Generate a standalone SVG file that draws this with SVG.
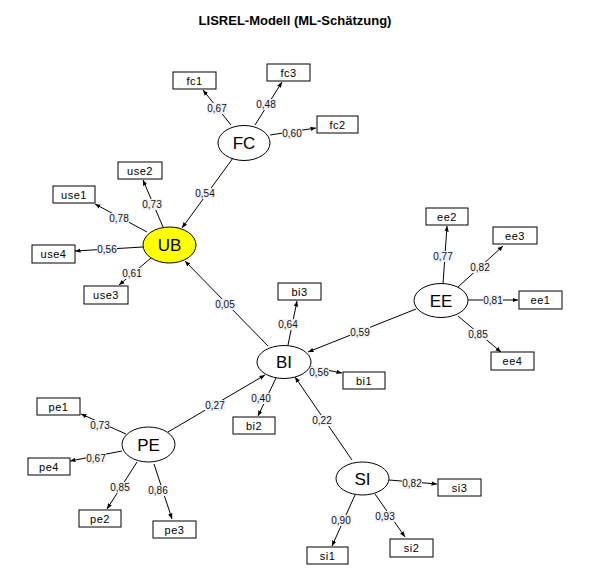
<svg xmlns="http://www.w3.org/2000/svg" width="590" height="580" viewBox="0 0 590 580">
<style>
.bg{fill:#fff}
.lv ellipse{fill:#fff;stroke:#000;stroke-width:1}
.lv text{font-family:"Liberation Sans",Arial,sans-serif;font-size:17px;text-anchor:middle}
.ob rect{fill:#fff;stroke:#000;stroke-width:1}
.ob text{font-family:"Liberation Sans",Arial,sans-serif;font-size:11px;text-anchor:middle;letter-spacing:0.5px}
.c line{stroke:#000;stroke-width:1;marker-end:url(#ah)}
.lb rect{fill:#f1f3f8}
.lb text{font-family:"Liberation Sans",Arial,sans-serif;font-size:10px;text-anchor:middle;fill:#111}
.title{font-family:"Liberation Sans",Arial,sans-serif;font-size:13px;font-weight:bold;text-anchor:middle}
</style>
<defs>
<marker id="ah" markerUnits="userSpaceOnUse" markerWidth="6" markerHeight="6" refX="5.5" refY="3" orient="auto">
<path d="M0,0.8 L5.5,3 L0,5.2 z" fill="#000"/>
</marker>
</defs>
<rect class="bg" x="0" y="0" width="590" height="580"/>
<text class="title" x="295" y="25">LISREL-Modell (ML-Schätzung)</text>

<g id="connectors" class="c">
<line x1="231" y1="125" x2="203" y2="90"/>
<line x1="255" y1="125" x2="282" y2="82"/>
<line x1="270" y1="135" x2="316" y2="128"/>
<line x1="233" y1="158" x2="182" y2="228"/>
<line x1="163" y1="227" x2="143" y2="180"/>
<line x1="147" y1="232" x2="95" y2="204"/>
<line x1="143" y1="247" x2="75" y2="251"/>
<line x1="151" y1="258" x2="119" y2="285"/>
<line x1="268" y1="346" x2="185" y2="261"/>
<line x1="443" y1="284" x2="447" y2="226"/>
<line x1="458" y1="287" x2="503" y2="246"/>
<line x1="468" y1="300" x2="518" y2="300"/>
<line x1="458" y1="316" x2="501" y2="352"/>
<line x1="416" y1="309" x2="308" y2="352"/>
<line x1="288" y1="345" x2="297" y2="301"/>
<line x1="311" y1="367" x2="342" y2="373"/>
<line x1="276" y1="378" x2="258" y2="416"/>
<line x1="168" y1="432" x2="265" y2="375"/>
<line x1="352" y1="460" x2="295" y2="377"/>
<line x1="126" y1="434" x2="81" y2="414"/>
<line x1="122" y1="451" x2="70" y2="461"/>
<line x1="137" y1="462" x2="107" y2="509"/>
<line x1="154" y1="464" x2="172" y2="519"/>
<line x1="389" y1="480" x2="437" y2="484"/>
<line x1="355" y1="495" x2="332" y2="546"/>
<line x1="375" y1="494" x2="405" y2="537"/>
</g>

<g id="labels" class="lb">
<rect x="207" y="103" width="20" height="11"/><text x="217" y="112">0,67</text>
<rect x="256" y="99" width="20" height="11"/><text x="266" y="108">0,48</text>
<rect x="282" y="128" width="20" height="11"/><text x="292" y="137">0,60</text>
<rect x="195" y="188" width="20" height="11"/><text x="205" y="197">0,54</text>
<rect x="142" y="199" width="20" height="11"/><text x="152" y="208">0,73</text>
<rect x="109" y="213" width="20" height="11"/><text x="119" y="222">0,78</text>
<rect x="97" y="244" width="20" height="11"/><text x="107" y="253">0,56</text>
<rect x="122" y="268" width="20" height="11"/><text x="132" y="277">0,61</text>
<rect x="215" y="299" width="20" height="11"/><text x="225" y="308">0,05</text>
<rect x="433" y="251" width="20" height="11"/><text x="443" y="260">0,77</text>
<rect x="470" y="262" width="20" height="11"/><text x="480" y="271">0,82</text>
<rect x="483" y="295" width="20" height="11"/><text x="493" y="304">0,81</text>
<rect x="468" y="329" width="20" height="11"/><text x="478" y="338">0,85</text>
<rect x="278" y="319" width="20" height="11"/><text x="288" y="328">0,64</text>
<rect x="350" y="327" width="20" height="11"/><text x="360" y="336">0,59</text>
<rect x="309" y="367" width="20" height="11"/><text x="319" y="376">0,56</text>
<rect x="251" y="393" width="20" height="11"/><text x="261" y="402">0,40</text>
<rect x="205" y="400" width="20" height="11"/><text x="215" y="409">0,27</text>
<rect x="312" y="415" width="20" height="11"/><text x="322" y="424">0,22</text>
<rect x="90" y="420" width="20" height="11"/><text x="100" y="429">0,73</text>
<rect x="86" y="453" width="20" height="11"/><text x="96" y="462">0,67</text>
<rect x="110" y="482" width="20" height="11"/><text x="120" y="491">0,85</text>
<rect x="148" y="485" width="20" height="11"/><text x="158" y="494">0,86</text>
<rect x="402" y="478" width="20" height="11"/><text x="412" y="487">0,82</text>
<rect x="331" y="515" width="20" height="11"/><text x="341" y="524">0,90</text>
<rect x="375" y="511" width="20" height="11"/><text x="385" y="520">0,93</text>
</g>

<g id="FC" class="lv"><ellipse cx="244" cy="143" rx="26" ry="17.5"/><text x="244" y="149">FC</text></g>
<g id="UB" class="lv"><ellipse cx="169.5" cy="245" rx="26.5" ry="18" style="fill:#ffff00"/><text x="169.5" y="251">UB</text></g>
<g id="EE" class="lv"><ellipse cx="441" cy="300.5" rx="27" ry="17"/><text x="441" y="306.5">EE</text></g>
<g id="BI" class="lv"><ellipse cx="284" cy="362" rx="27" ry="16.5"/><text x="284" y="368">BI</text></g>
<g id="PE" class="lv"><ellipse cx="148.5" cy="444.5" rx="26.5" ry="17.5"/><text x="148.5" y="450.5">PE</text></g>
<g id="SI" class="lv"><ellipse cx="362.5" cy="478.5" rx="26.5" ry="16.5"/><text x="362.5" y="484.5">SI</text></g>

<g id="fc1" class="ob"><rect x="173" y="72" width="43" height="17"/><text x="194.5" y="84.5">fc1</text></g>
<g id="fc3" class="ob"><rect x="267" y="64" width="43" height="17"/><text x="288.5" y="76.5">fc3</text></g>
<g id="fc2" class="ob"><rect x="317" y="116" width="41" height="17"/><text x="337.5" y="128.5">fc2</text></g>
<g id="use2" class="ob"><rect x="118" y="162" width="44" height="17"/><text x="140" y="174.5">use2</text></g>
<g id="use1" class="ob"><rect x="53" y="186" width="42" height="17"/><text x="74" y="198.5">use1</text></g>
<g id="use4" class="ob"><rect x="32" y="245" width="43" height="18"/><text x="53.5" y="258">use4</text></g>
<g id="use3" class="ob"><rect x="84" y="286" width="44" height="18"/><text x="106" y="299">use3</text></g>
<g id="ee2" class="ob"><rect x="426" y="208" width="42" height="17"/><text x="447" y="220.5">ee2</text></g>
<g id="ee3" class="ob"><rect x="493" y="227" width="44" height="17"/><text x="515" y="239.5">ee3</text></g>
<g id="ee1" class="ob"><rect x="519" y="291" width="43" height="18"/><text x="540.5" y="304">ee1</text></g>
<g id="ee4" class="ob"><rect x="491" y="352" width="43" height="18"/><text x="512.5" y="365">ee4</text></g>
<g id="bi3" class="ob"><rect x="278" y="283" width="43" height="17"/><text x="299.5" y="295.5">bi3</text></g>
<g id="bi1" class="ob"><rect x="343" y="372" width="42" height="17"/><text x="364" y="384.5">bi1</text></g>
<g id="bi2" class="ob"><rect x="233" y="417" width="42" height="17"/><text x="254" y="429.5">bi2</text></g>
<g id="pe1" class="ob"><rect x="37" y="398" width="43" height="17"/><text x="58.5" y="410.5">pe1</text></g>
<g id="pe4" class="ob"><rect x="28" y="458" width="42" height="17"/><text x="49" y="470.5">pe4</text></g>
<g id="pe2" class="ob"><rect x="79" y="510" width="42" height="17"/><text x="100" y="522.5">pe2</text></g>
<g id="pe3" class="ob"><rect x="153" y="521" width="43" height="17"/><text x="174.5" y="533.5">pe3</text></g>
<g id="si3" class="ob"><rect x="438" y="479" width="43" height="17"/><text x="459.5" y="491.5">si3</text></g>
<g id="si1" class="ob"><rect x="307" y="547" width="41" height="17"/><text x="327.5" y="559.5">si1</text></g>
<g id="si2" class="ob"><rect x="390" y="539" width="43" height="18"/><text x="411.5" y="552">si2</text></g>
</svg>
